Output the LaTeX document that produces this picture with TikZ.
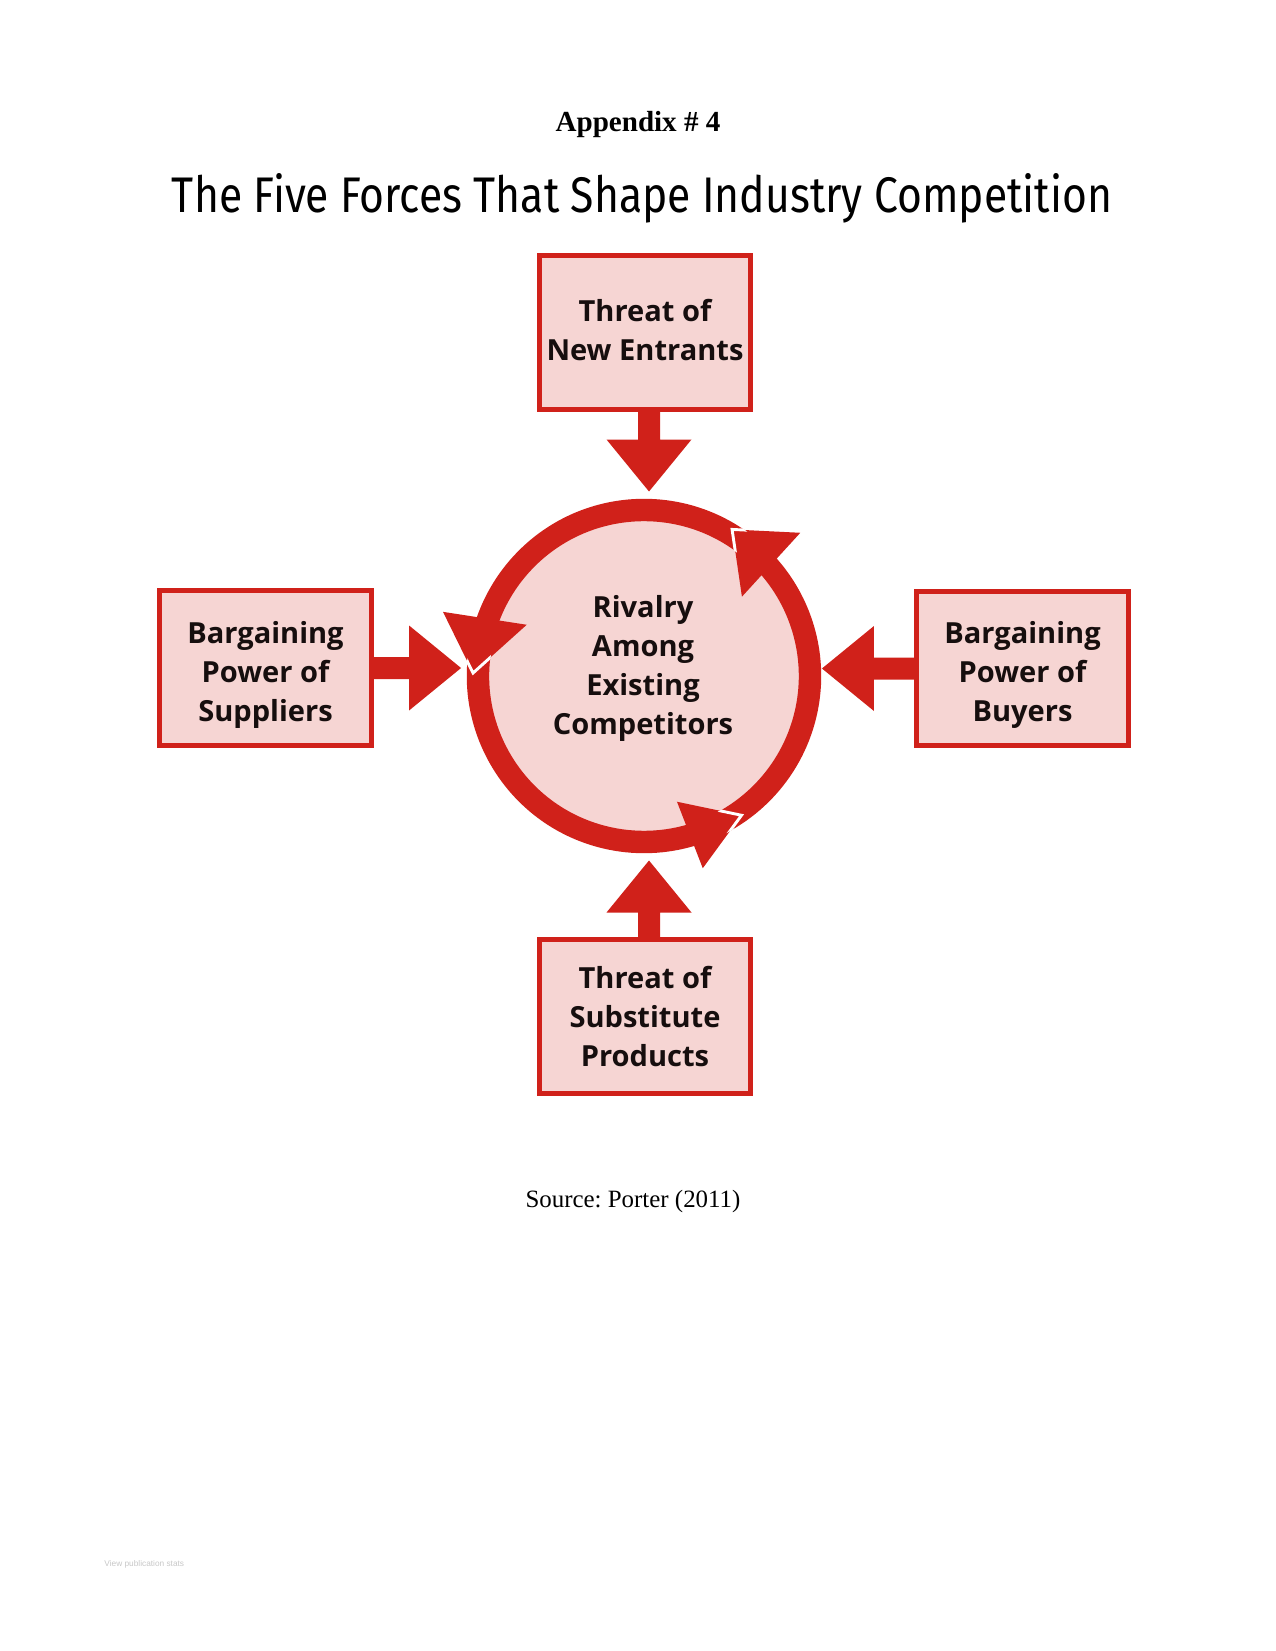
\documentclass[tikz,border=0pt]{standalone}
\usepackage{fontspec}
\usepackage{graphicx}
\usetikzlibrary{calc}
\setmainfont{Liberation Serif}
\newfontfamily\boxfont{Open Sans}
\newfontfamily\titlefont{Fira Sans}
\newfontfamily\smallsans{Liberation Sans}
\definecolor{pfred}{RGB}{208,33,26}
\definecolor{pfpink}{RGB}{246,213,211}
\definecolor{textdark}{RGB}{22,14,14}
\frenchspacing
\newcommand\pfarrow[3]{%
  \fill[pfred, shift={(#1)}, rotate=#2]
    (0,-11) -- ({#3-52},-11) -- ({#3-52},-42.5) -- (#3,0) --
    ({#3-52},42.5) -- ({#3-52},11) -- (0,11) -- cycle;}
% ring arrowhead: #1 tip angle, #2 tip radius, #3 outer angle, #4 outer radius, #5 inner angle, #6 inner radius
\newcommand\ringhead[6]{%
  \fill[pfred] (#1:#2) -- (#3:#4) -- (#5:#6) -- cycle;
  \begin{scope}
    \clip ({#1-22}:154.5) arc[start angle={#1-22}, end angle={#1+10}, radius=154.5]
      -- ({#1+10}:177.5) arc[start angle={#1+10}, end angle={#1-22}, radius=177.5] -- cycle;
    \draw[headedge] (#5:#6) -- (#1:#2) -- (#3:#4);
  \end{scope}}
% text block whose first line is given extra height #1 (pushes the block down inside its box)
\newcommand\boxlines[2]{\begin{tabular}{@{}c@{}}\rule{0pt}{#1}#2\end{tabular}}
\begin{document}
\begin{tikzpicture}[x=0.4817pt,y=0.4817pt,
  forcebox/.style={draw=pfred, fill=pfpink, line width=2.4pt,
    minimum width=101.7pt, minimum height=74.2pt, inner sep=0pt,
    align=center, text=textdark,
    font=\boxfont\bfseries\fontsize{14}{18.8}\selectfont},
  rivtext/.style={align=center, text=textdark, inner sep=0pt,
    font=\boxfont\bfseries\fontsize{14}{18.8}\selectfont},
  ringarc/.style={draw=pfred, line width=10.8pt},
  headedge/.style={draw=white, line width=1.4pt, line join=miter}
]
\useasboundingbox (0,0) rectangle (1275,-1651);

% headings
\node[anchor=base, inner sep=0pt, font=\bfseries\fontsize{14}{16}\selectfont] (app) at (638,-132) {Appendix \# 4};
\node[anchor=base, inner sep=0pt] (title) at (642,-213)
  {\resizebox{452.8pt}{18.8pt}{\titlefont The Five Forces That Shape Industry Competition}};

% centre ring
\coordinate (c) at (644,-676);
\fill[pfpink] (c) circle[radius=168];
\begin{scope}[shift={(c)}]
  \draw[ringarc] (-68:166) arc[start angle=-68, end angle=44, radius=166];
  \draw[ringarc] (46:166) arc[start angle=46, end angle=163, radius=166];
  \draw[ringarc] (166:166) arc[start angle=166, end angle=288, radius=166];
  \ringhead{59}{171}{42.5}{212}{39}{126}
  \ringhead{179}{171}{162.3}{211}{156.4}{128}
  \ringhead{305}{170}{287}{201}{284.7}{130}
\end{scope}
\node[rivtext] (riv) at (643,-668) {Rivalry\\Among\\Existing\\Competitors};

% force boxes
\node[forcebox] (ne) at (645,-332.5) {\boxlines{14.2pt}{Threat of\\New Entrants}};
\node[forcebox] (su) at (265.5,-668) {\boxlines{19.3pt}{Bargaining\\Power of\\Suppliers}};
\node[forcebox] (bu) at (1022.5,-668.5) {\boxlines{19.3pt}{Bargaining\\Power of\\Buyers}};
\node[forcebox] (sb) at (645,-1016.5) {\boxlines{16.2pt}{Threat of\\Substitute\\Products}};

% connectors (block arrows from each box towards the ring)
\pfarrow{$(ne.south)+(4,0)$}{-90}{79.5}
\pfarrow{su.east}{0}{87.5}
\pfarrow{bu.west}{180}{92.5}
\pfarrow{$(sb.north)+(4,0)$}{90}{76.5}

% source
\node[anchor=base, inner sep=0pt, font=\fontsize{12}{14}\selectfont] (src) at (633,-1207) {Source: Porter (2011)};
\node[anchor=base west, inner sep=0pt, text=black!22, font=\smallsans\fontsize{4}{5}\selectfont] (vps) at (104,-1566) {View publication stats};
\end{tikzpicture}
\end{document}
